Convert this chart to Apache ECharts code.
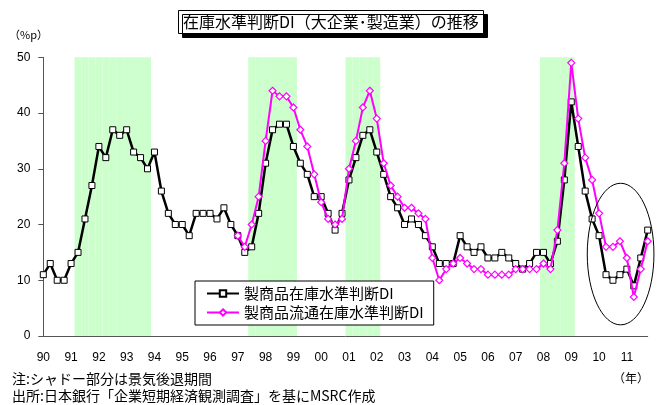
<!DOCTYPE html>
<html><head><meta charset="utf-8">
<script src="https://cdn.jsdelivr.net/npm/echarts@6/dist/echarts.min.js"></script>
<style>html,body{margin:0;padding:0;background:#fff}#c{width:661px;height:405px}</style>
</head><body><div id="c"></div>
<script>
// quarterly categories 1990Q1 .. 2011Q4
const years = [1990,1991,1992,1993,1994,1995,1996,1997,1998,1999,2000,2001,2002,2003,2004,2005,2006,2007,2008,2009,2010,2011];
const quarters = ['Q1','Q2','Q3','Q4'];
const categories = [];
years.forEach(y => quarters.forEach(q => categories.push(y + q)));
const yearLabels = ['90','91','92','93','94','95','96','97','98','99','00','01','02','03','04','05','06','07','08','09','10','11'];

// 製商品在庫水準判断DI
const inventoryDI = [
  11,13,10,10, 13,15,21,27, 34,32,37,36, 37,33,32,30,
  33,26,22,20, 20,18,22,22, 22,21,23,20, 18,15,16,22,
  31,37,38,38, 34,31,29,25, 25,22,19,22, 28,32,36,37,
  33,29,25,23, 20,21,20,18, 16,13,13,13, 18,16,15,16,
  14,14,15,14, 13,12,13,15, 15,13,17,28, 42,34,26,21,
  18,11,10,11, 12,9,14,19
];
// 製商品流通在庫水準判断DI (from 1997Q1)
const distributionDI = [
  null,null,null,null, null,null,null,null, null,null,null,null, null,null,null,null,
  null,null,null,null, null,null,null,null, null,null,null,null, 18,16,20,25,
  35,44,43,43, 41,37,34,29, 24,21,20,21, 30,35,41,44,
  39,31,27,25, 23,23,22,21, 14,10,12,13, 14,13,12,12,
  11,11,11,11, 12,12,12,12, 13,12,19,31, 49,39,32,28,
  22,16,16,17, 14,7,12,17
];
// recession periods (shaded)
const recessions = [['1991Q2','1993Q4'],['1997Q3','1999Q1'],['2001Q1','2002Q1'],['2008Q1','2009Q1']];
const yMin = 0, yMax = 50, yStep = 10;

const shade = categories.map(c => recessions.some(r => c >= r[0] && c <= r[1]) ? yMax : null);

const JP = '"Noto Sans CJK JP", sans-serif';
const NUM = '"Liberation Sans", Arial, sans-serif';

const chart = echarts.init(document.getElementById('c'), null, {renderer: 'canvas'});
chart.setOption({
  animation: false,
  backgroundColor: '#fff',
  title: {
    text: '在庫水準判断DI（大企業･製造業）の推移',
    left: 178, top: 10,
    padding: [4, 5, 4, 5],
    backgroundColor: '#fff', borderColor: '#000', borderWidth: 1,
    shadowColor: '#000', shadowOffsetX: 4, shadowOffsetY: 4, shadowBlur: 0,
    textStyle: {fontSize: 16, fontWeight: 'normal', color: '#000', fontFamily: JP}
  },
  grid: {left: 43.3, right: 13.3, top: 57.3, bottom: 69, containLabel: false},
  legend: {
    orient: 'vertical', left: 195, top: 281,
    padding: [5, 10, 5, 11],
    itemWidth: 32, itemHeight: 8, itemGap: 4,
    backgroundColor: '#fff', borderColor: '#000', borderWidth: 1,
    textStyle: {fontSize: 15, color: '#000', fontFamily: JP},
    data: ['製商品在庫水準判断DI', '製商品流通在庫水準判断DI']
  },
  xAxis: {
    type: 'category', data: categories, boundaryGap: false,
    axisLine: {lineStyle: {color: '#555', width: 1}},
    axisTick: {show: false},
    axisLabel: {
      interval: 3, margin: 16, fontSize: 12, color: '#000', fontFamily: NUM,
      formatter: (v, i) => yearLabels[Math.floor(i / 4)]
    },
    splitLine: {show: false}
  },
  yAxis: {
    type: 'value', min: yMin, max: yMax, interval: yStep,
    axisLine: {show: true, lineStyle: {color: '#555', width: 1}},
    axisTick: {show: true, inside: false, length: 5, lineStyle: {color: '#555'}},
    axisLabel: {fontSize: 12, color: '#000', margin: 13, fontFamily: NUM},
    splitLine: {show: false}
  },
  series: [
    {
      name: 'recession', type: 'bar', data: shade, barWidth: '100%', barGap: '-100%',
      itemStyle: {color: '#CCFFCC'}, silent: true, z: 0
    },
    {
      name: '製商品在庫水準判断DI', type: 'line', data: inventoryDI,
      symbol: 'rect', symbolSize: 6, showAllSymbol: true,
      lineStyle: {color: '#000', width: 2.5},
      itemStyle: {color: '#fff', borderColor: '#000', borderWidth: 1},
      z: 3
    },
    {
      name: '製商品流通在庫水準判断DI', type: 'line', data: distributionDI,
      symbol: 'diamond', symbolSize: 7, showAllSymbol: true,
      lineStyle: {color: '#FF00FF', width: 2},
      itemStyle: {color: '#fff', borderColor: '#FF00FF', borderWidth: 1.2},
      z: 4
    }
  ]
});

// annotation ellipse around 2010-2011 (placed in data coordinates)
const p0 = chart.convertToPixel({gridIndex: 0}, [0, 0]);
const p1 = chart.convertToPixel({gridIndex: 0}, [87, 50]);
const sx = (p1[0] - p0[0]) / 87, sy = (p0[1] - p1[1]) / 50;
const cx = p0[0] + 83.1 * sx, cy = p0[1] - 14.7 * sy;

chart.setOption({
  graphic: [
    {type: 'ellipse', shape: {cx: cx, cy: cy, rx: 4.8 * sx, ry: 12.7 * sy},
     style: {fill: 'none', stroke: '#000', lineWidth: 1}, z: 10, silent: true},
    {type: 'text', left: 9, top: 29, style: {text: '（%p）', fill: '#000', font: '11px ' + JP}},
    {type: 'text', left: 12, top: 372, style: {text: '注:シャドー部分は景気後退期間', fill: '#000', font: '14px ' + JP}},
    {type: 'text', left: 12, top: 389, style: {text: '出所:日本銀行「企業短期経済観測調査」を基にMSRC作成', fill: '#000', font: '14px ' + JP}},
    {type: 'text', right: 12, top: 372, style: {text: '（年）', fill: '#000', font: '12px ' + JP}}
  ]
});
</script>
</body></html>
